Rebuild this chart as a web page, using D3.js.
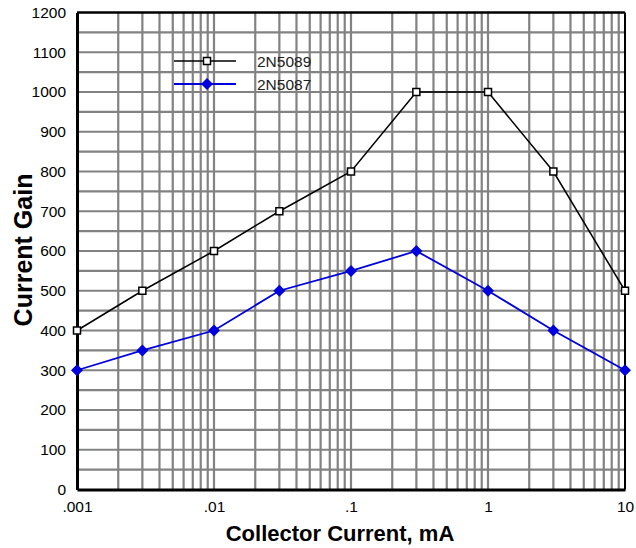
<!DOCTYPE html>
<html><head><meta charset="utf-8">
<script src="https://cdn.jsdelivr.net/npm/d3@7"></script>
<style>body{margin:0;background:#fff}svg{display:block}text{font-family:Arial,"Liberation Sans",sans-serif}</style>
</head><body>
<svg id="c" width="636" height="548"></svg>
<script>
const currents = [0.001, 0.003, 0.01, 0.03, 0.1, 0.3, 1, 3, 10];
const gain5089 = [400, 500, 600, 700, 800, 1000, 1000, 800, 500];
const gain5087 = [300, 350, 400, 500, 550, 600, 500, 400, 300];
const xTickValues = [0.001, 0.01, 0.1, 1, 10];
const xTickLabels = [".001", ".01", ".1", "1", "10"];
const yTickValues = [0,100,200,300,400,500,600,700,800,900,1000,1100,1200];
const seriesNames = ["2N5089", "2N5087"];

const svg = d3.select("#c");
const L = 77, R = 625, T = 12.5, B = 489.5;
const x = d3.scaleLog().domain([0.001, 10]).range([L, R]);
const y = d3.scaleLinear().domain([0, 1200]).range([B, T]);

const grid = svg.append("g").attr("stroke", "#828282").attr("stroke-width", 2.2);
const vx = [];
for (let e = -3; e < 1; e++) for (let m = 1; m <= 9; m++) vx.push(m * Math.pow(10, e));
grid.selectAll("line.v").data(vx.filter(v => v > 0.001 && v < 10)).join("line")
  .attr("x1", d => x(d)).attr("x2", d => x(d)).attr("y1", T).attr("y2", B);
const hy = d3.range(50, 1200, 50);
grid.selectAll("line.h").data(hy).join("line")
  .attr("x1", L).attr("x2", R).attr("y1", d => y(d)).attr("y2", d => y(d));

// frame
svg.append("line").attr("x1", L).attr("x2", R).attr("y1", T).attr("y2", T).attr("stroke", "#000").attr("stroke-width", 2.5);
svg.append("line").attr("x1", R).attr("x2", R).attr("y1", T).attr("y2", B).attr("stroke", "#000").attr("stroke-width", 2);

// axes
const xAxis = d3.axisBottom(x).tickValues(xTickValues).tickFormat((d, i) => xTickLabels[i]).tickSize(0).tickPadding(11);
const gx = svg.append("g").attr("transform", `translate(0,${B})`).call(xAxis);
gx.select(".domain").attr("stroke", "#000").attr("stroke-width", 3);
gx.selectAll("text").style("font-size", "15.5px").attr("fill", "#000");
const yAxis = d3.axisLeft(y).tickValues(yTickValues).tickFormat(d3.format("d")).tickSize(0).tickPadding(11);
const gy = svg.append("g").attr("transform", `translate(${L},0)`).call(yAxis);
gy.select(".domain").attr("stroke", "#000").attr("stroke-width", 3);
gy.selectAll("text").style("font-size", "15.5px").attr("fill", "#000");

svg.append("text").attr("x", 340).attr("y", 541).attr("text-anchor", "middle")
  .style("font-size", "22px").attr("font-weight", "bold").text("Collector Current, mA");
svg.append("text").attr("transform", "translate(32,250) rotate(-90)").attr("text-anchor", "middle")
  .style("font-size", "25px").attr("font-weight", "bold").text("Current Gain");

const blue = "#0000dd";
const line = d3.line().x(d => x(d[0])).y(d => y(d[1]));
const d5089 = currents.map((c, i) => [c, gain5089[i]]);
const d5087 = currents.map((c, i) => [c, gain5087[i]]);
svg.append("path").datum(d5089).attr("d", line).attr("fill", "none").attr("stroke", "#000").attr("stroke-width", 1.5);
svg.append("path").datum(d5087).attr("d", line).attr("fill", "none").attr("stroke", blue).attr("stroke-width", 1.8);

const sq = 7, dm = 6;
function square(g, cx, cy) {
  g.append("rect").attr("x", cx - sq/2).attr("y", cy - sq/2).attr("width", sq).attr("height", sq)
    .attr("fill", "#fff").attr("stroke", "#000").attr("stroke-width", 1.5);
}
function diamond(g, cx, cy) {
  g.append("path").attr("d", `M${cx},${cy-dm}L${cx+dm},${cy}L${cx},${cy+dm}L${cx-dm},${cy}Z`).attr("fill", blue);
}
const mk = svg.append("g");
d5087.forEach(d => diamond(mk, x(d[0]), y(d[1])));
d5089.forEach(d => square(mk, x(d[0]), y(d[1])));

// legend
const lg = svg.append("g");
lg.append("line").attr("x1", 174).attr("x2", 236).attr("y1", 61).attr("y2", 61).attr("stroke", "#000").attr("stroke-width", 1.5);
square(lg, 207, 61);
lg.append("line").attr("x1", 174).attr("x2", 236).attr("y1", 84).attr("y2", 84).attr("stroke", blue).attr("stroke-width", 1.8);
diamond(lg, 207, 84);
lg.append("text").attr("x", 257).attr("y", 66.5).style("font-size", "15.5px").attr("fill", "#222").text(seriesNames[0]);
lg.append("text").attr("x", 257).attr("y", 89.5).style("font-size", "15.5px").attr("fill", "#222").text(seriesNames[1]);
</script>
</body></html>
